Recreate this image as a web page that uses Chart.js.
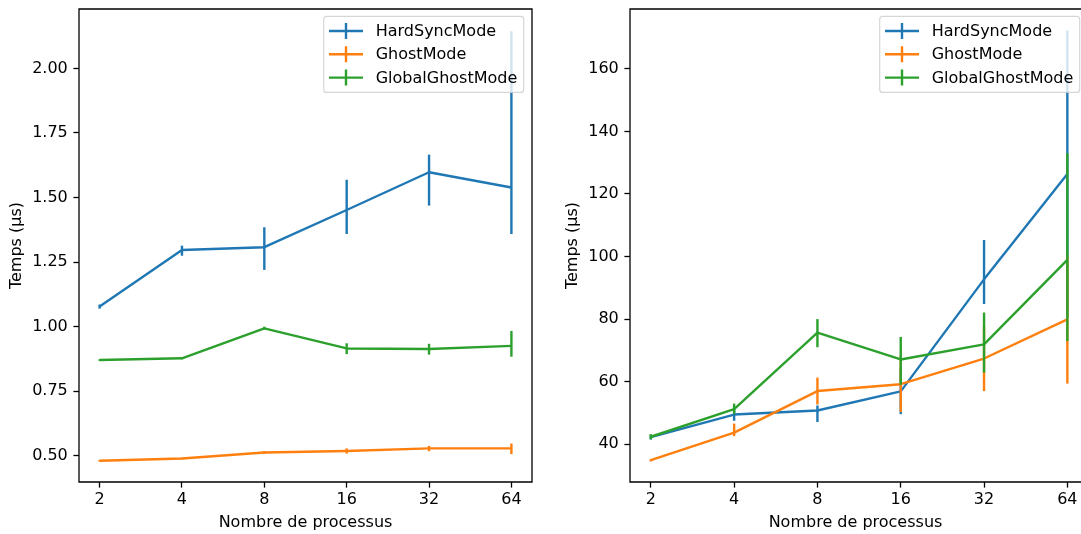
<!DOCTYPE html>
<html lang="fr">
<head>
<meta charset="UTF-8">
<title>Temps selon le nombre de processus</title>
<script src="https://cdn.jsdelivr.net/npm/chart.js"></script>
<style>
  body { margin: 0; background: white; overflow: hidden; }
  .figure { position: relative; width: 1081px; height: 534px; overflow: hidden; background: white; }
  #leftChart { position: absolute; left: 0; top: 0; }
  #rightChart { position: absolute; left: 540px; top: 0; }
</style>
</head>
<body>
<div class="figure">
  <canvas id="leftChart" width="540" height="534"></canvas>
  <canvas id="rightChart" width="541" height="534"></canvas>
</div>
<script>
const processes = [2, 4, 8, 16, 32, 64];
const seriesNames = ["HardSyncMode", "GhostMode", "GlobalGhostMode"];
const seriesColors = ["#1f77b4", "#ff7f0e", "#2ca02c"];

// left panel (µs)
const hardLeft     = [1.078, 1.297, 1.308, 1.452, 1.598, 1.539];
const hardLeftLow  = [1.070, 1.275, 1.220, 1.359, 1.469, 1.359];
const hardLeftHigh = [1.086, 1.314, 1.385, 1.569, 1.666, 2.144];
const ghostLeft     = [0.481, 0.490, 0.513, 0.519, 0.529, 0.529];
const ghostLeftLow  = [0.478, 0.487, 0.508, 0.509, 0.518, 0.507];
const ghostLeftHigh = [0.484, 0.493, 0.518, 0.529, 0.539, 0.548];
const globalLeft     = [0.871, 0.878, 0.994, 0.916, 0.914, 0.926];
const globalLeftLow  = [0.868, 0.874, 0.988, 0.894, 0.892, 0.884];
const globalLeftHigh = [0.874, 0.882, 1.000, 0.936, 0.934, 0.984];
const leftYTicks = [0.5, 0.75, 1.0, 1.25, 1.5, 1.75, 2.0];

// right panel (µs)
const hardRight     = [42.3, 49.5, 50.8, 56.9, 92.7, 126.4];
const hardRightLow  = [41.5, 47.5, 47.1, 49.6, 84.8, 80.6];
const hardRightHigh = [43.1, 51.5, 52.4, 64.2, 105.3, 172.2];
const ghostRight     = [34.9, 43.7, 57.0, 59.2, 67.4, 79.9];
const ghostRightLow  = [34.5, 42.6, 52.7, 50.3, 57.0, 59.4];
const ghostRightHigh = [35.3, 46.6, 61.3, 68.1, 77.8, 100.4];
const globalRight     = [42.4, 51.2, 75.7, 67.1, 71.9, 98.9];
const globalRightLow  = [41.6, 49.6, 71.0, 59.0, 62.9, 73.0];
const globalRightHigh = [43.2, 53.0, 80.0, 74.3, 82.1, 133.0];
const rightYTicks = [40, 60, 80, 100, 120, 140, 160];

const FONT = { family: "'DejaVu Sans', sans-serif", size: 16 };
const LINE_W = 2.4;

// vertical error bars, drawn right after each line like matplotlib
const errorBars = {
    id: 'errorBars',
    afterDatasetDraw(chart, args) {
        const ds = chart.data.datasets[args.index];
        const xs = chart.scales.x, ys = chart.scales.y;
        const ctx = chart.ctx;
        ctx.save();
        ctx.strokeStyle = ds.borderColor;
        ctx.lineWidth = ds.borderWidth;
        ds.data.forEach((pt, i) => {
            const px = xs.getPixelForValue(pt.x);
            ctx.beginPath();
            ctx.moveTo(px, ys.getPixelForValue(ds.errLow[i]));
            ctx.lineTo(px, ys.getPixelForValue(ds.errHigh[i]));
            ctx.stroke();
        });
        ctx.restore();
    }
};

// box around the axes (right side skipped when the axes are cut by the figure edge)
const frame = {
    id: 'frame',
    afterDatasetsDraw(chart, args, opts) {
        const a = chart.chartArea, ctx = chart.ctx;
        ctx.save();
        ctx.strokeStyle = '#000';
        ctx.lineWidth = 1.3;
        ctx.beginPath();
        ctx.moveTo(a.right + (opts.right ? 0 : 2), a.top);
        ctx.lineTo(a.left, a.top);
        ctx.lineTo(a.left, a.bottom);
        ctx.lineTo(a.right + (opts.right ? 0 : 2), a.bottom);
        if (opts.right) ctx.closePath();
        ctx.stroke();
        ctx.restore();
    }
};

// matplotlib-like legend in the upper right corner
const mplLegend = {
    id: 'mplLegend',
    afterDraw(chart, args, opts) {
        const ctx = chart.ctx, a = chart.chartArea;
        const w = 200, h = 76;
        const bx = a.right - opts.inset - w, by = 16.4;
        ctx.save();
        ctx.beginPath();
        ctx.roundRect(bx, by, w, h, 3);
        ctx.fillStyle = 'rgba(255,255,255,0.8)';
        ctx.fill();
        ctx.strokeStyle = 'rgba(204,204,204,0.8)';
        ctx.lineWidth = 1.2;
        ctx.stroke();
        ctx.font = FONT.size + "px " + FONT.family;
        ctx.textBaseline = 'middle';
        chart.data.datasets.forEach((ds, i) => {
            const ry = by + 14.6 + i * 23.3;
            ctx.strokeStyle = ds.borderColor;
            ctx.lineWidth = LINE_W;
            ctx.beginPath();
            ctx.moveTo(bx + 5.3, ry);
            ctx.lineTo(bx + 39.3, ry);
            ctx.moveTo(bx + 22.3, ry - 8);
            ctx.lineTo(bx + 22.3, ry + 8);
            ctx.stroke();
            ctx.fillStyle = '#000';
            ctx.fillText(ds.label, bx + 52, ry + 1);
        });
        ctx.restore();
    }
};

function makeDatasets(values, lows, highs) {
    return values.map((vals, s) => ({
        label: seriesNames[s],
        data: vals.map((v, i) => ({ x: Math.log2(processes[i]), y: v })),
        errLow: lows[s],
        errHigh: highs[s],
        borderColor: seriesColors[s],
        backgroundColor: seriesColors[s],
        borderWidth: LINE_W,
        borderJoinStyle: 'round',
        pointRadius: 0,
        tension: 0,
        order: 3 - s
    }));
}

function makeChart(id, datasets, yMin, yMax, yTicks, fmt, p) {
    return new Chart(document.getElementById(id), {
        type: 'line',
        data: { datasets: datasets },
        options: {
            responsive: false,
            animation: false,
            events: [],
            layout: { padding: { left: 0, top: 9, right: p.rightPad, bottom: 0 } },
            plugins: {
                legend: { display: false },
                tooltip: { enabled: false },
                frame: { right: p.frameRight },
                mplLegend: { inset: p.legendInset }
            },
            scales: {
                x: {
                    type: 'linear',
                    min: 0.75,
                    max: p.xMax,
                    afterBuildTicks: s => { s.ticks = processes.map(n => ({ value: Math.log2(n) })); },
                    afterFit: s => { s.height = 52; s.paddingLeft = 0; s.paddingRight = 0; },
                    grid: { drawOnChartArea: false, drawTicks: true, tickLength: 5.6, tickColor: '#000', tickWidth: 1.3 },
                    border: { display: false },
                    ticks: {
                        color: '#000', font: FONT, padding: 2.8, maxRotation: 0, autoSkip: false,
                        callback: v => String(Math.round(Math.pow(2, v)))
                    },
                    title: { display: true, text: 'Nombre de processus', color: '#000', font: FONT, padding: { top: 0, bottom: 1.7 } }
                },
                y: {
                    type: 'linear',
                    min: yMin,
                    max: yMax,
                    afterBuildTicks: s => { s.ticks = yTicks.map(v => ({ value: v })); },
                    afterFit: s => { s.width = p.yAxisWidth; s.paddingTop = 0; s.paddingBottom = 0; },
                    grid: { drawOnChartArea: false, drawTicks: true, tickLength: 5.6, tickColor: '#000', tickWidth: 1.3 },
                    border: { display: false },
                    ticks: { color: '#000', font: FONT, padding: 5.6, callback: fmt },
                    title: { display: true, text: 'Temps (µs)', color: '#000', font: FONT, padding: { top: p.titlePad, bottom: 0 } }
                }
            }
        },
        plugins: [errorBars, frame, mplLegend]
    });
}

makeChart('leftChart',
    makeDatasets([hardLeft, ghostLeft, globalLeft],
                 [hardLeftLow, ghostLeftLow, globalLeftLow],
                 [hardLeftHigh, ghostLeftHigh, globalLeftHigh]),
    0.399, 2.230, leftYTicks, v => v.toFixed(2),
    { yAxisWidth: 79, rightPad: 8, titlePad: 7.6, xMax: 6.25, frameRight: true, legendInset: 8.3 });

// the right axes are cut by the figure edge, as in the original image
makeChart('rightChart',
    makeDatasets([hardRight, ghostRight, globalRight],
                 [hardRightLow, ghostRightLow, globalRightLow],
                 [hardRightHigh, ghostRightHigh, globalRightHigh]),
    27.94, 179.1, rightYTicks, v => String(v),
    { yAxisWidth: 90, rightPad: 0, titlePad: 23.2, xMax: 6.164, frameRight: false, legendInset: 1.3 });
</script>
</body>
</html>
